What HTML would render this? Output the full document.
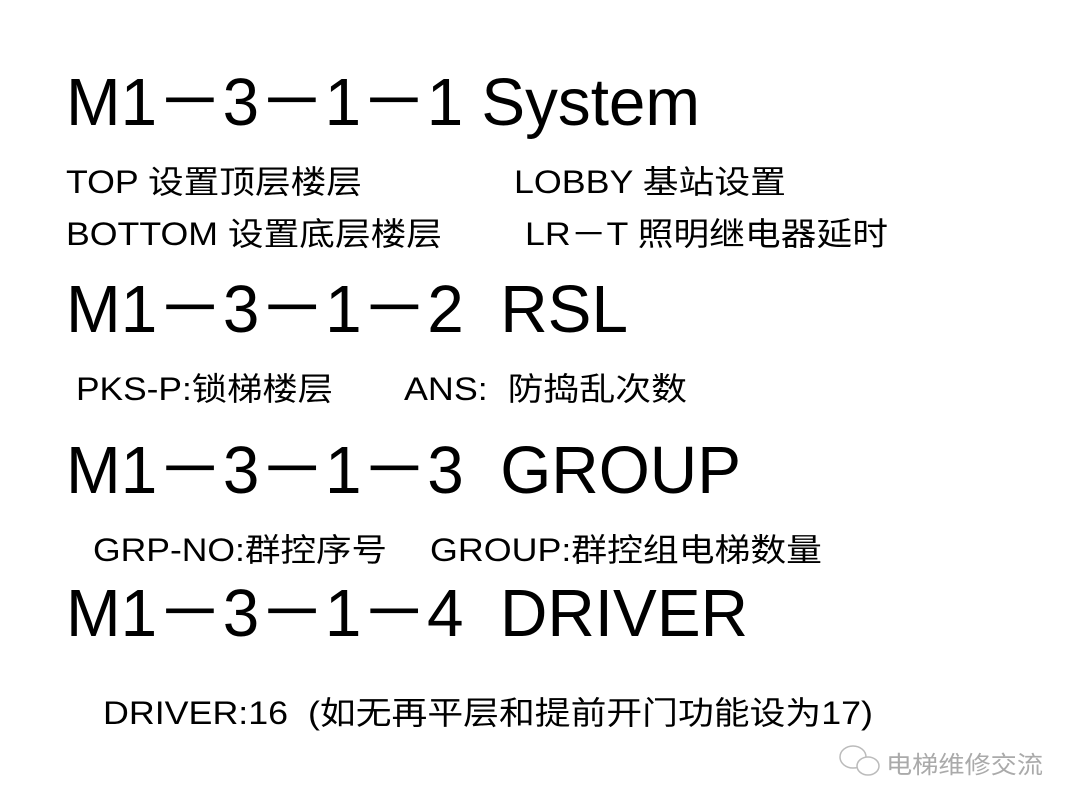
<!DOCTYPE html>
<html><head><meta charset="utf-8"><style>
html,body{margin:0;padding:0;background:#fff;width:1080px;height:810px;overflow:hidden}
svg{display:block}
text{font-family:"Liberation Sans","Noto Sans CJK SC",sans-serif;fill:#000;white-space:pre}
.h{font-size:67px}
.s{font-size:32px}
</style></head><body>
<svg width="1080" height="810" viewBox="0 0 1080 810" xml:space="preserve">
<text class="h" x="66" y="125" textLength="634" lengthAdjust="spacingAndGlyphs">M1－3－1－1 System</text>
<text class="s" x="66" y="193" textLength="296" lengthAdjust="spacingAndGlyphs">TOP 设置顶层楼层</text>
<text class="s" x="514" y="193" textLength="272" lengthAdjust="spacingAndGlyphs">LOBBY 基站设置</text>
<text class="s" x="66" y="245" textLength="376" lengthAdjust="spacingAndGlyphs">BOTTOM 设置底层楼层</text>
<text class="s" x="525" y="245" textLength="363" lengthAdjust="spacingAndGlyphs">LR－T 照明继电器延时</text>
<text class="h" x="66" y="332" textLength="562" lengthAdjust="spacingAndGlyphs">M1－3－1－2  RSL</text>
<text class="s" x="76" y="400" textLength="257" lengthAdjust="spacingAndGlyphs">PKS-P:锁梯楼层</text>
<text class="s" x="404" y="400" textLength="283" lengthAdjust="spacingAndGlyphs">ANS:  防捣乱次数</text>
<text class="h" x="66" y="493" textLength="675" lengthAdjust="spacingAndGlyphs">M1－3－1－3  GROUP</text>
<text class="s" x="93" y="561" textLength="294" lengthAdjust="spacingAndGlyphs">GRP-NO:群控序号</text>
<text class="s" x="430" y="561" textLength="392" lengthAdjust="spacingAndGlyphs">GROUP:群控组电梯数量</text>
<text class="h" x="66" y="636" textLength="682" lengthAdjust="spacingAndGlyphs">M1－3－1－4  DRIVER</text>
<text class="s" x="103" y="724" textLength="770" lengthAdjust="spacingAndGlyphs">DRIVER:16  (如无再平层和提前开门功能设为17)</text>
<g fill="none" stroke="#bbb" stroke-width="1.5">
<ellipse cx="853" cy="757" rx="13" ry="11"/>
<ellipse cx="868" cy="766" rx="11" ry="9" fill="#fff"/>
</g>
<text x="886" y="773" font-size="24" style="fill:#aaa" textLength="157" lengthAdjust="spacingAndGlyphs">电梯维修交流</text>
</svg>
</body></html>
